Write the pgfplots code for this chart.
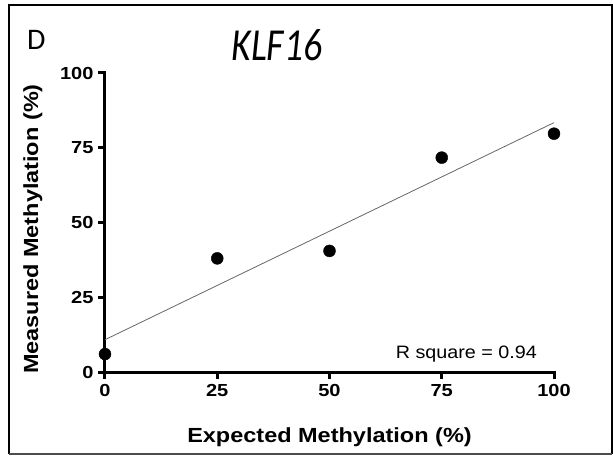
\documentclass[border=0pt]{standalone}
\usepackage{pgfplots}
\pgfplotsset{compat=1.18}
\usepackage{fontspec}
\setmainfont{Liberation Sans}
\newfontfamily\arfont[FakeStretch=1.15]{Liberation Sans}
\newfontfamily\arrfont[FakeStretch=1.1]{Liberation Sans}
\newfontfamily\calfont{Carlito}
\newfontfamily\caltfont[FakeStretch=0.82]{Carlito}
\begin{document}
\begin{tikzpicture}
\useasboundingbox (-105bp,-87bp) rectangle (508bp,372bp);
\draw[line width=2bp] (-96bp,-82bp) -- (-96bp,367bp) -- (507bp,367bp) -- (507bp,-82bp);
\draw[line width=1.5bp, black!70] (-96bp,-82bp) -- (507bp,-82bp);
\begin{axis}[
  at={(0,0)}, anchor=origin,
  scale only axis, width=449bp, height=299bp,
  xmin=0, xmax=100, ymin=0, ymax=100,
  axis lines=left,
  axis line style={-, line width=3bp, black, line cap=rect},
  xtick={0,25,50,75,100}, ytick={0,25,50,75,100},
  tick align=outside,
  major tick length=7bp,
  tick style={line width=3bp, black},
  /pgf/number format/assume math mode=true,
  ticklabel style={font=\arfont\bfseries\fontsize{17.5}{20}\selectfont},
  xticklabel style={yshift=-2bp},
  yticklabel style={xshift=-1bp},
  xlabel={Expected Methylation (\%)},
  ylabel={Measured Methylation (\%)},
  label style={font=\arfont\bfseries\fontsize{20.5}{24}\selectfont},
  xlabel style={at={(rel axis cs:0.5,0)}, anchor=base, yshift=-70bp},
  ylabel style={at={(rel axis cs:-0.149,0.478)}, anchor=base},
  clip=false,
]
\addplot[gray!80!black, line width=0.8bp] coordinates {(0,10.8) (100,83.4)};
\addplot[only marks, mark=*, mark size=6bp, black] coordinates {
(0,6) (25,38) (50,40.5) (75,71.7) (100,79.7)};
\end{axis}
\node[anchor=base east, font=\arrfont\fontsize{18}{21}\selectfont, inner sep=0] at (432bp,14bp) {R square = 0.94};
\node[anchor=base west, font=\calfont\fontsize{30}{34}\selectfont, inner sep=0] at (-78bp,322bp) {D};
\node[anchor=base, font=\caltfont\itshape\fontsize{46}{50}\selectfont, inner sep=0] at (172bp,311bp) {KLF16};
\end{tikzpicture}
\end{document}
